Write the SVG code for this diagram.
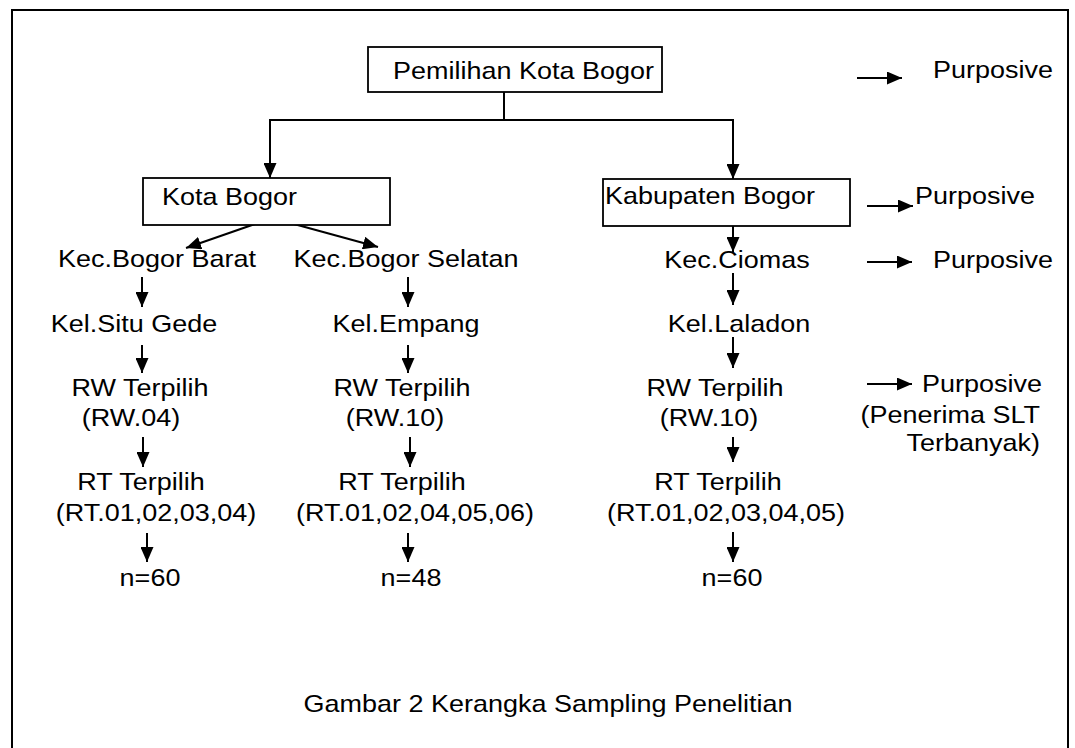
<svg xmlns="http://www.w3.org/2000/svg" width="1075" height="748" viewBox="0 0 1075 748">
<style>
text{font-family:"Liberation Sans",Arial,sans-serif;font-size:24px;fill:#000}
.m{text-anchor:middle}
.e{text-anchor:end}
.box{fill:#fff;stroke:#000;stroke-width:1.8}
.ln{fill:none;stroke:#000;stroke-width:2}
.ar{fill:none;stroke:#000;stroke-width:2;marker-end:url(#ah)}
</style>
<defs>
<marker id="ah" viewBox="0 0 15 13" refX="15" refY="6.5" markerWidth="15" markerHeight="13" markerUnits="userSpaceOnUse" orient="auto">
<path d="M0,0 L15,6.5 L0,13 z" fill="#000"/>
</marker>
</defs>
<rect width="1075" height="748" fill="#fff"/>
<path class="ln" d="M12,760 L12,10 L1068,10 L1068,760"/>

<g id="connectors">
<path class="ln" d="M504,92 L504,120"/>
<path class="ar" d="M504,120 L270,120 L270,178"/>
<path class="ar" d="M504,120 L733,120 L733,179"/>
<path class="ar" d="M272,218 L186,248"/>
<path class="ar" d="M272,218 L378,247"/>
<path class="ar" d="M733,222 L733,252"/>
<path class="ar" d="M142,277 L142,307"/>
<path class="ar" d="M142,345 L142,373"/>
<path class="ar" d="M143,437 L143,467"/>
<path class="ar" d="M147,533 L147,562"/>
<path class="ar" d="M408,277 L408,307"/>
<path class="ar" d="M408,345 L408,373"/>
<path class="ar" d="M410,437 L410,467"/>
<path class="ar" d="M408,533 L408,562"/>
<path class="ar" d="M733,273 L733,305"/>
<path class="ar" d="M733,337 L733,368"/>
<path class="ar" d="M733,437 L733,462"/>
<path class="ar" d="M733,532 L733,562"/>
<path class="ar" d="M857,78 L902,78"/>
<path class="ar" d="M867,206 L913,206"/>
<path class="ar" d="M867,262 L912,262"/>
<path class="ar" d="M867,384 L912,384"/>
</g>

<g id="pemilihan">
<rect class="box" x="368" y="47" width="294" height="45"/>
<text transform="translate(393,79) scale(1.125,1)">Pemilihan Kota Bogor</text>
</g>
<g id="kota-bogor">
<rect class="box" x="143" y="178" width="247" height="47"/>
<text transform="translate(162,205) scale(1.125,1)">Kota Bogor</text>
</g>
<g id="kabupaten-bogor">
<rect class="box" x="603" y="179" width="247" height="47"/>
<text transform="translate(605,204) scale(1.125,1)">Kabupaten Bogor</text>
</g>

<g id="purposive-labels">
<text transform="translate(933,78) scale(1.125,1)">Purposive</text>
<text transform="translate(915,204) scale(1.125,1)">Purposive</text>
<text transform="translate(933,268) scale(1.125,1)">Purposive</text>
<text transform="translate(922,392) scale(1.125,1)">Purposive</text>
<text class="e" transform="translate(1040,423) scale(1.125,1)">(Penerima SLT</text>
<text class="e" transform="translate(1040,451) scale(1.125,1)">Terbanyak)</text>
</g>

<g id="left-column">
<text class="m" transform="translate(157,267) scale(1.125,1)">Kec.Bogor Barat</text>
<text class="m" transform="translate(134,332) scale(1.125,1)">Kel.Situ Gede</text>
<text class="m" transform="translate(140,396) scale(1.125,1)">RW Terpilih</text>
<text class="m" transform="translate(131,426) scale(1.125,1)">(RW.04)</text>
<text class="m" transform="translate(141,490) scale(1.125,1)">RT Terpilih</text>
<text class="m" transform="translate(156,521) scale(1.125,1)">(RT.01,02,03,04)</text>
<text class="m" transform="translate(150,586) scale(1.125,1)">n=60</text>
</g>

<g id="middle-column">
<text class="m" transform="translate(406,267) scale(1.125,1)">Kec.Bogor Selatan</text>
<text class="m" transform="translate(406,332) scale(1.125,1)">Kel.Empang</text>
<text class="m" transform="translate(402,396) scale(1.125,1)">RW Terpilih</text>
<text class="m" transform="translate(395,426) scale(1.125,1)">(RW.10)</text>
<text class="m" transform="translate(402,490) scale(1.125,1)">RT Terpilih</text>
<text class="m" transform="translate(415,521) scale(1.125,1)">(RT.01,02,04,05,06)</text>
<text class="m" transform="translate(411,586) scale(1.125,1)">n=48</text>
</g>

<g id="right-column">
<text class="m" transform="translate(737,268) scale(1.125,1)">Kec.Ciomas</text>
<text class="m" transform="translate(739,332) scale(1.125,1)">Kel.Laladon</text>
<text class="m" transform="translate(715,396) scale(1.125,1)">RW Terpilih</text>
<text class="m" transform="translate(709,426) scale(1.125,1)">(RW.10)</text>
<text class="m" transform="translate(718,490) scale(1.125,1)">RT Terpilih</text>
<text class="m" transform="translate(726,521) scale(1.125,1)">(RT.01,02,03,04,05)</text>
<text class="m" transform="translate(732,586) scale(1.125,1)">n=60</text>
</g>

<g id="caption">
<text class="m" transform="translate(548,712) scale(1.125,1)">Gambar 2 Kerangka Sampling Penelitian</text>
</g>
</svg>
